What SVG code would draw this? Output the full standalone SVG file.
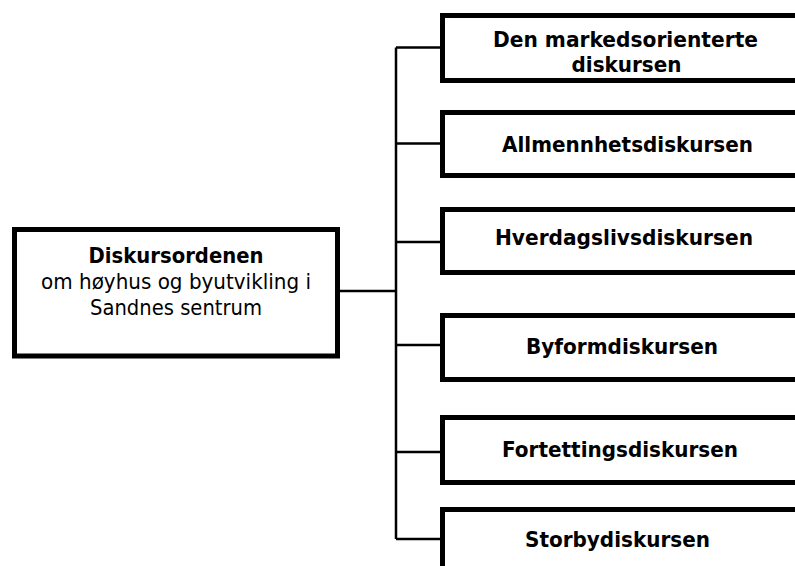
<svg xmlns="http://www.w3.org/2000/svg" width="795" height="566" viewBox="0 0 795 566">
<style>
.box{fill:#fff;stroke:#000;stroke-width:5}
.conn{fill:none;stroke:#000;stroke-width:2.5}
text{font-family:"DejaVu Sans","Verdana",sans-serif;font-size:21.5px;fill:#000;text-anchor:middle}
.b{font-weight:bold}
</style>
<rect width="795" height="566" fill="#fff"/>
<g id="connectors">
<path class="conn" d="M396 47.5V539"/>
<path class="conn" d="M338 291H396"/>
<path class="conn" d="M396 47.5H442"/>
<path class="conn" d="M396 143.5H442"/>
<path class="conn" d="M396 242H442"/>
<path class="conn" d="M396 345H442"/>
<path class="conn" d="M396 452H442"/>
<path class="conn" d="M396 539H442"/>
</g>
<g id="root">
<rect class="box" x="14.5" y="229.5" width="323" height="126.5"/>
<text x="176" y="263" class="b" textLength="175" lengthAdjust="spacingAndGlyphs">Diskursordenen</text>
<text x="176" y="289" textLength="270" lengthAdjust="spacingAndGlyphs">om høyhus og byutvikling i</text>
<text x="176" y="315" textLength="172" lengthAdjust="spacingAndGlyphs">Sandnes sentrum</text>
</g>
<g id="n1">
<rect class="box" x="442.5" y="15.5" width="380" height="65"/>
<text x="625.5" y="46.5" class="b" textLength="265" lengthAdjust="spacingAndGlyphs">Den markedsorienterte</text>
<text x="626.5" y="72" class="b" textLength="110" lengthAdjust="spacingAndGlyphs">diskursen</text>
</g>
<g id="n2">
<rect class="box" x="442.5" y="112.5" width="380" height="63"/>
<text x="627.5" y="152" class="b" textLength="251" lengthAdjust="spacingAndGlyphs">Allmennhetsdiskursen</text>
</g>
<g id="n3">
<rect class="box" x="442.5" y="209.5" width="380" height="63"/>
<text x="624" y="244.5" class="b" textLength="258" lengthAdjust="spacingAndGlyphs">Hverdagslivsdiskursen</text>
</g>
<g id="n4">
<rect class="box" x="442.5" y="315.5" width="380" height="64"/>
<text x="622" y="354" class="b" textLength="192" lengthAdjust="spacingAndGlyphs">Byformdiskursen</text>
</g>
<g id="n5">
<rect class="box" x="442.5" y="417.5" width="380" height="65"/>
<text x="620" y="457" class="b" textLength="236" lengthAdjust="spacingAndGlyphs">Fortettingsdiskursen</text>
</g>
<g id="n6">
<rect class="box" x="442.5" y="509.5" width="380" height="70"/>
<text x="617.5" y="547" class="b" textLength="185" lengthAdjust="spacingAndGlyphs">Storbydiskursen</text>
</g>
</svg>
